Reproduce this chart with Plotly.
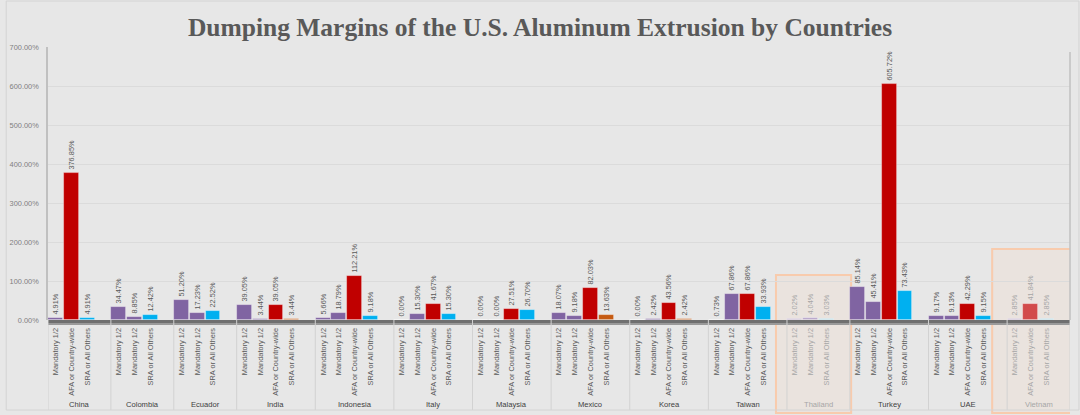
import plotly.graph_objects as go

countries = ["China", "Colombia", "Ecuador", "India", "Indonesia", "Italy", "Malaysia",
             "Mexico", "Korea", "Taiwan", "Thailand", "Turkey", "UAE", "Vietnam"]

M, A, S = "Mandatory 1/2", "AFA or Country-wide", "SRA or All Others"
bar_labels = [
    [M, A, S],
    [M, M, S],
    [M, M, S],
    [M, M, A, S],
    [M, M, A, S],
    [M, M, A, S],
    [M, M, A, S],
    [M, M, A, S],
    [M, M, A, S],
    [M, M, A, S],
    [M, M, S],
    [M, M, A, S],
    [M, M, A, S],
    [M, A, S],
]
margins = [
    [4.91, 376.85, 4.91],
    [34.47, 8.85, 12.42],
    [51.20, 17.23, 22.52],
    [39.05, 3.44, 39.05, 3.44],
    [5.66, 18.79, 112.21, 9.18],
    [0.00, 15.30, 41.67, 15.30],
    [0.00, 0.00, 27.51, 26.70],
    [18.07, 9.18, 82.03, 13.63],
    [0.00, 2.42, 43.56, 2.42],
    [0.73, 67.86, 67.86, 33.93],
    [2.02, 4.04, 3.03],
    [85.14, 45.41, 605.72, 73.43],
    [9.17, 9.13, 42.29, 9.15],
    [2.85, 41.84, 2.85],
]
title_text = "Dumping Margins of the U.S. Aluminum Extrusion by Countries"

# styling
orange_sra = {"India", "Mexico", "Korea"}
faded = {"Thailand", "Vietnam"}
col_normal = {M: "#8064A2", A: "#C00000", S: "#00B0F0"}
col_faded = {M: "#B9A8CC", A: "#D24B4B", S: "#9ED6EA"}
col_orange = "#C55A11"
txt_col = "#595959"
txt_faded = "#A6A6A6"
BG = "#E7E7E7"
FONT = "Liberation Sans, Arial, sans-serif"
FS = 7.4

xs, ys, cols, tcols, tickv, tickt = [], [], [], [], [], []
group_start = []
pos = 0
for c, labs, vals in zip(countries, bar_labels, margins):
    group_start.append(pos)
    for j, (lab, v) in enumerate(zip(labs, vals)):
        x = pos + j
        xs.append(x)
        ys.append(v)
        if c in faded:
            cols.append(col_faded[lab])
            tcols.append(txt_faded)
            tickt.append(f'<span style="color:{txt_faded}">{lab}</span>')
        else:
            if lab == S and c in orange_sra:
                cols.append(col_orange)
            else:
                cols.append(col_normal[lab])
            tcols.append(txt_col)
            tickt.append(lab)
        tickv.append(x)
    pos += len(labs) + 1
total = pos

fig = go.Figure()
fig.add_trace(go.Bar(
    x=xs, y=ys, width=0.94,
    marker=dict(color=cols, line=dict(color="rgba(255,255,255,0.45)", width=0.8)),
    text=[f"{v:.2f}%" for v in ys],
    textposition="outside", textangle=-90, constraintext="none", cliponaxis=False,
    textfont=dict(size=FS, color=tcols, family=FONT),
    hoverinfo="skip",
))

plot_h = 273.0
def py(px):  # pixel offset below/above the zero line -> paper
    return px / plot_h

shapes = []
# highlight boxes
ti = countries.index("Thailand")
vi = countries.index("Vietnam")
for idx, left_off, right_off, top in [(ti, 1.2, 0.08, 45), (vi, 1.45, 0.2, 71)]:
    s = group_start[idx]
    n = len(bar_labels[idx])
    shapes.append(dict(type="rect", xref="x", yref="paper",
                       x0=s - left_off, x1=s + n + 0.5 + right_off,
                       y0=py(-93), y1=py(top),
                       line=dict(color="#F8CBAD", width=2),
                       fillcolor="rgba(248,203,173,0.16)", layer="below"))
# floor
shapes.append(dict(type="rect", xref="paper", yref="paper", x0=0, x1=1,
                   y0=py(-3), y1=0, line=dict(width=0), fillcolor="#6F6F6F", layer="above"))
shapes.append(dict(type="rect", xref="paper", yref="paper", x0=0, x1=1,
                   y0=py(-5), y1=py(-3), line=dict(width=0), fillcolor="#9A9A9A", layer="above"))
# group separators
for s in group_start + [total]:
    shapes.append(dict(type="line", xref="x", yref="paper", x0=s - 0.5, x1=s - 0.5,
                       y0=py(0), y1=py(-90), line=dict(color="#D2D2D2", width=1), layer="above"))
# right wall edge
shapes.append(dict(type="line", xref="paper", yref="paper", x0=1, x1=1, y0=0, y1=py(268),
                   line=dict(color="#C0C0C0", width=1.5)))
# outer chart border
shapes.append(dict(type="rect", xref="paper", yref="paper",
                   x0=-42 / 1027, x1=1036 / 1027, y0=py(-90), y1=py(319),
                   line=dict(color="#D4D4D4", width=1)))

annotations = []
for c, s, labs in zip(countries, group_start, bar_labels):
    annotations.append(dict(x=s - 0.5 + (len(labs) + 1) / 2, y=py(-84), xref="x", yref="paper",
                            text=c, showarrow=False, yanchor="middle",
                            font=dict(size=7.6, family=FONT,
                                      color=txt_faded if c in faded else "#404040")))

fig.update_layout(
    width=1080, height=415,
    margin=dict(l=43, r=10, t=47, b=95),
    paper_bgcolor=BG, plot_bgcolor=BG,
    showlegend=False, bargap=0,
    title=dict(text=f"<b>{title_text}</b>", x=0.5, xanchor="center", y=1 - 27 / 415,
               yanchor="middle", font=dict(family="Liberation Serif, Times New Roman, serif",
                                          size=25.5, color="#595959")),
    xaxis=dict(range=[-0.5, total - 0.5], tickmode="array", tickvals=tickv, ticktext=tickt,
               tickangle=-90, tickfont=dict(size=FS, color=txt_col, family=FONT),
               showgrid=False, zeroline=False, showline=False, ticks="outside", ticklen=4,
               tickcolor="rgba(0,0,0,0)"),
    yaxis=dict(range=[0, 700], dtick=100, tickformat=".2f", ticksuffix="%",
               tickfont=dict(size=FS, color="#7F7F7F", family=FONT),
               gridcolor="#DBDBDB", gridwidth=1, zeroline=False,
               showline=True, linecolor="#C0C0C0", linewidth=1.5,
               ticks="outside", ticklen=6, tickcolor="rgba(0,0,0,0)"),
    shapes=shapes, annotations=annotations,
)
fig.write_html("out.html")
